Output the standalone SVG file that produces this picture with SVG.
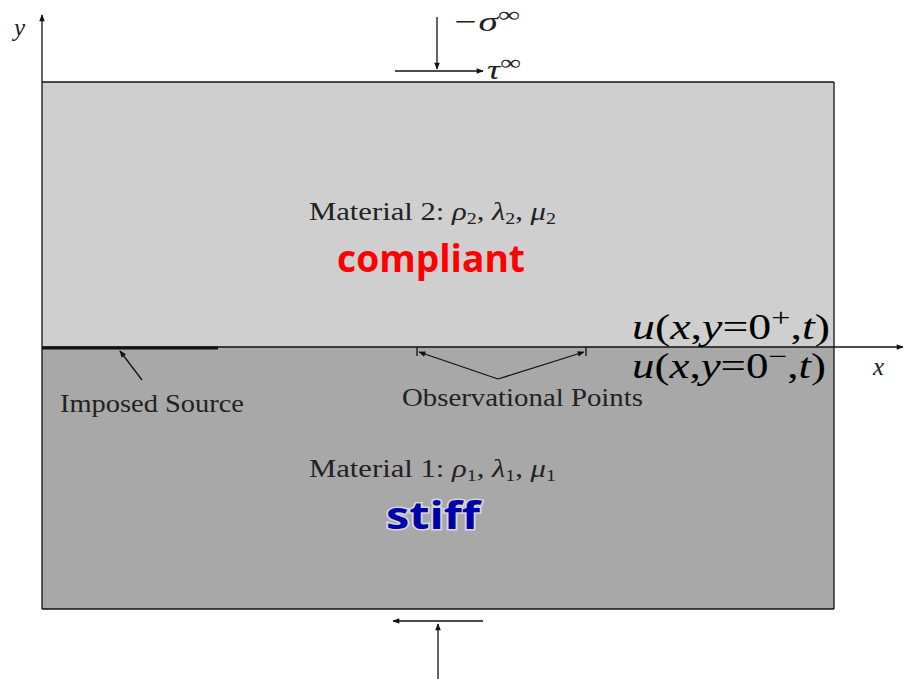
<svg xmlns="http://www.w3.org/2000/svg" width="909" height="679" viewBox="0 0 909 679">
<defs>
<marker id="ah" viewBox="0 0 10 10" refX="9" refY="5" markerWidth="9" markerHeight="7" orient="auto" markerUnits="userSpaceOnUse">
<path d="M0,1 L10,5 L0,9 Z" fill="#111"/>
</marker>
</defs>
<style>
.ln{stroke:#111;stroke-width:1.3;fill:none}
.lbl{font-family:"Liberation Serif",serif;font-size:26px;fill:#222}
.math{font-family:"Liberation Serif",serif;font-style:italic;fill:#222}
.big{font-family:"Liberation Serif",serif;font-size:35px;fill:#000}
.hand{font-family:"Open Sans","DejaVu Sans",sans-serif;font-weight:bold;font-size:38px}
</style>
<rect width="909" height="679" fill="#fff"/>
<g id="material2">
<rect x="42" y="82" width="792" height="265" fill="#cfcfcf"/>
<text class="lbl" x="309" y="220" textLength="247" lengthAdjust="spacingAndGlyphs">Material 2: <tspan class="math">ρ</tspan><tspan font-size="17" dy="4">2</tspan><tspan dy="-4">, </tspan><tspan class="math">λ</tspan><tspan font-size="17" dy="4">2</tspan><tspan dy="-4">, </tspan><tspan class="math">μ</tspan><tspan font-size="17" dy="4">2</tspan></text>
<text class="hand" x="337" y="272" fill="#ff0000" textLength="188" lengthAdjust="spacingAndGlyphs">compliant</text>
</g>
<g id="material1">
<rect x="42" y="347" width="792" height="262" fill="#a8a8a8"/>
<text class="lbl" x="309" y="477" textLength="247" lengthAdjust="spacingAndGlyphs">Material 1: <tspan class="math">ρ</tspan><tspan font-size="17" dy="4">1</tspan><tspan dy="-4">, </tspan><tspan class="math">λ</tspan><tspan font-size="17" dy="4">1</tspan><tspan dy="-4">, </tspan><tspan class="math">μ</tspan><tspan font-size="17" dy="4">1</tspan></text>
<text class="hand" x="386" y="529" fill="#0000a8" stroke="#d8d8d8" stroke-width="3" paint-order="stroke" textLength="94" lengthAdjust="spacingAndGlyphs">stiff</text>
</g>
<g id="frame">
<line class="ln" x1="42" y1="82" x2="834" y2="82" stroke-width="2"/>
<line class="ln" x1="834" y1="82" x2="834" y2="609"/>
<line class="ln" x1="42" y1="609" x2="834" y2="609"/>
<line class="ln" x1="42" y1="347" x2="834" y2="347"/>
</g>
<g id="imposed-source">
<line x1="42" y1="348" x2="218" y2="348" stroke="#111" stroke-width="3"/>
<text class="lbl" x="60" y="412" textLength="184" lengthAdjust="spacingAndGlyphs">Imposed Source</text>
</g>
<g id="observational-points">
<line class="ln" x1="417" y1="347" x2="417" y2="356"/>
<line class="ln" x1="586" y1="347" x2="586" y2="356"/>
<text class="lbl" x="402" y="406" textLength="241" lengthAdjust="spacingAndGlyphs">Observational Points</text>
</g>
<g id="labels-u">
<text class="big" x="632" y="339" textLength="198" lengthAdjust="spacingAndGlyphs"><tspan font-style="italic">u</tspan>(<tspan font-style="italic">x</tspan>,<tspan font-style="italic">y</tspan>=0<tspan font-size="26" dy="-13">+</tspan><tspan dy="13">,</tspan><tspan font-style="italic">t</tspan>)</text>
<text class="big" x="632" y="378" textLength="194" lengthAdjust="spacingAndGlyphs"><tspan font-style="italic">u</tspan>(<tspan font-style="italic">x</tspan>,<tspan font-style="italic">y</tspan>=0<tspan font-size="26" dy="-13">−</tspan><tspan dy="13">,</tspan><tspan font-style="italic">t</tspan>)</text>
</g>
<g id="axes">
<text class="math" x="14" y="36" font-size="25">y</text>
<text class="math" x="873" y="375" font-size="25">x</text>
<text class="math" x="452" y="31" font-size="28" textLength="68" lengthAdjust="spacingAndGlyphs">−σ<tspan font-size="22" dy="-9" font-style="normal">∞</tspan></text>
<text class="math" x="487" y="79" font-size="28" textLength="34" lengthAdjust="spacingAndGlyphs">τ<tspan font-size="22" dy="-9" font-style="normal">∞</tspan></text>
</g>
<g id="connectors">
<line class="ln" x1="42" y1="609" x2="42" y2="15" marker-end="url(#ah)" stroke-width="1"/>
<line class="ln" x1="834" y1="347" x2="903" y2="347" marker-end="url(#ah)" stroke-width="1"/>
<line class="ln" x1="437" y1="17" x2="437" y2="69" marker-end="url(#ah)"/>
<line class="ln" x1="395" y1="71" x2="483" y2="71" marker-end="url(#ah)"/>
<line class="ln" x1="483" y1="621" x2="393" y2="621" marker-end="url(#ah)" stroke-width="2"/>
<line class="ln" x1="438" y1="679" x2="438" y2="624" marker-end="url(#ah)" stroke-width="1.6"/>
<line class="ln" x1="142" y1="380" x2="120" y2="351" marker-end="url(#ah)"/>
<line class="ln" x1="498" y1="379" x2="419" y2="352" marker-end="url(#ah)"/>
<line class="ln" x1="498" y1="379" x2="584" y2="352" marker-end="url(#ah)"/>
</g>
</svg>
